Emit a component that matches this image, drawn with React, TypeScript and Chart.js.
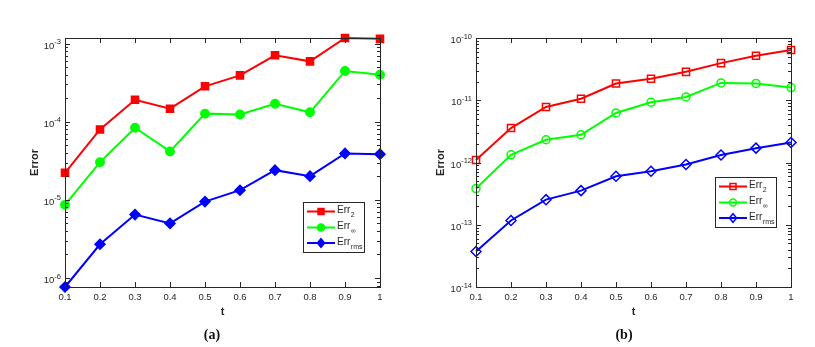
import React, { useEffect, useRef } from 'react';
import { Chart, registerables } from 'chart.js';

Chart.register(...registerables);

// ---------- data ----------
const T = [0.1, 0.2, 0.3, 0.4, 0.5, 0.6, 0.7, 0.8, 0.9, 1.0];
const X_TICK_LABELS = ['0.1', '0.2', '0.3', '0.4', '0.5', '0.6', '0.7', '0.8', '0.9', '1'];

// panel (a)
const aErr2 = [2.22e-5, 7.97e-5, 1.91e-4, 1.47e-4, 2.84e-4, 3.92e-4, 7.08e-4, 5.93e-4, 1.18e-3, 1.15e-3];
const aErrInf = [8.63e-6, 3.04e-5, 8.38e-5, 4.17e-5, 1.27e-4, 1.24e-4, 1.7e-4, 1.32e-4, 4.47e-4, 4.0e-4];
const aErrRms = [7.67e-7, 2.7e-6, 6.48e-6, 5.0e-6, 9.5e-6, 1.33e-5, 2.4e-5, 2.01e-5, 3.93e-5, 3.85e-5];

// panel (b)
const bErr2 = [1.1e-12, 3.58e-12, 7.8e-12, 1.06e-11, 1.86e-11, 2.21e-11, 2.86e-11, 3.95e-11, 5.19e-11, 6.4e-11];
const bErrInf = [3.81e-13, 1.33e-12, 2.32e-12, 2.79e-12, 6.25e-12, 9.29e-12, 1.13e-11, 1.9e-11, 1.86e-11, 1.6e-11];
const bErrRms = [3.71e-14, 1.17e-13, 2.53e-13, 3.53e-13, 6.02e-13, 7.24e-13, 9.3e-13, 1.32e-12, 1.7e-12, 2.1e-12];
const B_Y_MIN = 1e-14;
const B_Y_MAX = 1e-10;

const SERIES_BASE = ['Err', 'Err', 'Err'];
const SERIES_SUB = ['2', '\u221E', 'rms'];
const X_TITLE = 't';
const Y_TITLE = 'Error';
const CAPTIONS = ['(a)', '(b)'];

// ---------- styles ----------
const COLORS = ['#ff0000', '#00ff00', '#0000ff'];
const STYLES = ['rect', 'circle', 'rectRot'];
const AXIS_COLOR = '#262626';
const SANS = '"Liberation Sans", Arial, Helvetica, sans-serif';

function drawMarker(ctx: CanvasRenderingContext2D, style: string, x: number, y: number, r: number, color: string, filled: boolean) {
  ctx.save();
  ctx.beginPath();
  if (style === 'rect') {
    const s = r * Math.SQRT1_2;
    ctx.rect(x - s, y - s, 2 * s, 2 * s);
  } else if (style === 'circle') {
    ctx.arc(x, y, r, 0, Math.PI * 2);
  } else {
    ctx.moveTo(x, y - r);
    ctx.lineTo(x + r * 0.85, y);
    ctx.lineTo(x, y + r);
    ctx.lineTo(x - r * 0.85, y);
    ctx.closePath();
  }
  ctx.strokeStyle = color;
  ctx.lineWidth = 1.5;
  if (filled) {
    ctx.fillStyle = color;
    ctx.fill();
  }
  ctx.stroke();
  ctx.restore();
}

type PanelProps = {
  series: number[][];
  yMin: number;
  yMax: number;
  filled: boolean;
  padLeft: number;
  yWidth: number;
  padRight: number;
  legendX: number;
  legendY: number;
  radii: number[];
};

function Panel(p: PanelProps) {
  const ref = useRef<HTMLCanvasElement | null>(null);

  useEffect(() => {
    if (!ref.current) return;

    const overlay = {
      id: 'matlabAxes',
      afterDraw(chart: any) {
        const ctx: CanvasRenderingContext2D = chart.ctx;
        const a = chart.chartArea;
        const xs = chart.scales.x;
        const ys = chart.scales.y;
        ctx.save();
        ctx.strokeStyle = AXIS_COLOR;
        ctx.lineWidth = 1;
        // box
        ctx.strokeRect(Math.round(a.left) + 0.5, Math.round(a.top) + 0.5, Math.round(a.right - a.left), Math.round(a.bottom - a.top));
        // x ticks (inside, bottom and top)
        ctx.beginPath();
        for (const v of T) {
          const x = Math.round(xs.getPixelForValue(v)) + 0.5;
          ctx.moveTo(x, a.bottom);
          ctx.lineTo(x, a.bottom - 5);
          ctx.moveTo(x, a.top);
          ctx.lineTo(x, a.top + 5);
        }
        // y ticks (log, major + minor)
        const lo = Math.floor(Math.log10(ys.min)) - 1;
        const hi = Math.ceil(Math.log10(ys.max)) + 1;
        for (let d = lo; d <= hi; d++) {
          for (let m = 1; m <= 9; m++) {
            const v = m * Math.pow(10, d);
            if (v < ys.min * 0.9999 || v > ys.max * 1.0001) continue;
            const y = Math.round(ys.getPixelForValue(v)) + 0.5;
            const len = m === 1 ? 5 : 3;
            ctx.moveTo(a.left, y);
            ctx.lineTo(a.left + len, y);
            ctx.moveTo(a.right, y);
            ctx.lineTo(a.right - len, y);
          }
        }
        ctx.stroke();

        // y tick labels 10^d
        ctx.fillStyle = AXIS_COLOR;
        ctx.textBaseline = 'middle';
        ctx.textAlign = 'left';
        const dMin = Math.ceil(Math.log10(ys.min) - 1e-9);
        const dMax = Math.floor(Math.log10(ys.max) + 1e-9);
        for (let d = dMin; d <= dMax; d++) {
          const y = ys.getPixelForValue(Math.pow(10, d));
          const sup = (d < 0 ? '-' : '') + Math.abs(d);
          ctx.font = '7.5px ' + SANS;
          const supW = ctx.measureText(sup).width;
          ctx.font = '9.5px ' + SANS;
          const baseW = ctx.measureText('10').width;
          const right = a.left - 4;
          ctx.fillText('10', right - supW - baseW, y + 2.5);
          ctx.font = '7.5px ' + SANS;
          ctx.fillText(sup, right - supW, y - 1.5);
        }

        // legend
        const lx = p.legendX;
        const ly = p.legendY;
        const lw = 61;
        const lh = 50;
        ctx.fillStyle = '#ffffff';
        ctx.fillRect(lx, ly, lw, lh);
        ctx.strokeStyle = AXIS_COLOR;
        ctx.lineWidth = 1;
        ctx.strokeRect(lx + 0.5, ly + 0.5, lw, lh);
        const rows = [9.5, 25.5, 41];
        for (let i = 0; i < 3; i++) {
          const ry = ly + rows[i];
          ctx.beginPath();
          ctx.strokeStyle = COLORS[i];
          ctx.lineWidth = 2;
          ctx.moveTo(lx + 4, ry);
          ctx.lineTo(lx + 32, ry);
          ctx.stroke();
          drawMarker(ctx, STYLES[i], lx + 18, ry, p.radii[i] * 0.85, COLORS[i], p.filled);
          ctx.fillStyle = AXIS_COLOR;
          ctx.textBaseline = 'middle';
          ctx.textAlign = 'left';
          ctx.font = '10px ' + SANS;
          ctx.fillText(SERIES_BASE[i], lx + 34, ry - 1);
          const bw = ctx.measureText(SERIES_BASE[i]).width;
          ctx.font = '7px ' + SANS;
          ctx.fillText(SERIES_SUB[i], lx + 34 + bw + 0.5, ry + 4);
        }
        ctx.restore();
      },
    };

    const chart = new Chart(ref.current, {
      type: 'line',
      data: {
        datasets: p.series.map((vals, i) => ({
          label: SERIES_BASE[i] + SERIES_SUB[i],
          data: T.map((t, k) => ({ x: t, y: vals[k] })),
          borderColor: COLORS[i],
          borderWidth: 2,
          pointStyle: STYLES[i] as any,
          pointRadius: p.radii[i],
          pointBorderWidth: 1.5,
          pointBackgroundColor: p.filled ? COLORS[i] : 'rgba(0,0,0,0)',
          pointBorderColor: COLORS[i],
          tension: 0,
          clip: false as any,
        })),
      },
      options: {
        animation: false,
        responsive: false,
        maintainAspectRatio: false,
        layout: { padding: { left: p.padLeft, right: p.padRight, top: 38, bottom: 28 } },
        plugins: { legend: { display: false }, tooltip: { enabled: false } },
        scales: {
          x: {
            type: 'linear',
            min: 0.1,
            max: 1,
            afterBuildTicks: (s: any) => {
              s.ticks = T.map((v) => ({ value: v }));
            },
            ticks: {
              padding: 5,
              color: AXIS_COLOR,
              font: { family: SANS, size: 9.5 },
              maxRotation: 0,
              autoSkip: false,
              callback: (v: any) => {
                const idx = T.findIndex((t) => Math.abs(t - Number(v)) < 1e-6);
                return idx >= 0 ? X_TICK_LABELS[idx] : '';
              },
            },
            grid: { display: false, drawTicks: false },
            border: { display: false },
            title: { display: true, text: X_TITLE, color: AXIS_COLOR, font: { family: SANS, size: 11, weight: 'bold' }, padding: 0 },
            afterFit: (s: any) => {
              s.height = 32;
            },
          },
          y: {
            type: 'logarithmic',
            min: p.yMin,
            max: p.yMax,
            ticks: { display: false },
            grid: { display: false, drawTicks: false },
            border: { display: false },
            title: { display: true, text: Y_TITLE, color: AXIS_COLOR, font: { family: SANS, size: 11, weight: 'bold' }, padding: 0 },
            afterFit: (s: any) => {
              s.width = p.yWidth;
            },
          },
        },
      } as any,
      plugins: [overlay],
    });
    return () => chart.destroy();
  }, []);

  return <canvas ref={ref} width={407} height={347} style={{ display: 'block', width: 407, height: 347 }} />;
}

export default function App() {
  const aAll = [...aErr2, ...aErrInf, ...aErrRms];
  const aMin = Math.min(...aAll);
  const aMax = Math.max(...aAll);
  const captionStyle: React.CSSProperties = {
    position: 'absolute',
    top: 325,
    width: 60,
    textAlign: 'center',
    font: 'bold 14px "Liberation Serif", "Times New Roman", serif',
    color: '#111',
    lineHeight: '20px',
  };
  return (
    <div style={{ position: 'absolute', left: 0, top: 0, width: 815, height: 347, background: '#fff', overflow: 'hidden' }}>
      <div style={{ position: 'absolute', left: 0, top: 0 }}>
        <Panel
          series={[aErr2, aErrInf, aErrRms]}
          yMin={aMin}
          yMax={aMax}
          filled={true}
          padLeft={28}
          yWidth={37}
          padRight={27}
          legendX={303}
          legendY={202}
          radii={[5, 4.2, 5]}
        />
      </div>
      <div style={{ position: 'absolute', left: 408, top: 0 }}>
        <Panel
          series={[bErr2, bErrInf, bErrRms]}
          yMin={B_Y_MIN}
          yMax={B_Y_MAX}
          filled={false}
          padLeft={26}
          yWidth={42}
          padRight={24}
          legendX={307}
          legendY={177}
          radii={[5, 4, 5]}
        />
      </div>
      <div style={{ ...captionStyle, left: 182 }}>{CAPTIONS[0]}</div>
      <div style={{ ...captionStyle, left: 594 }}>{CAPTIONS[1]}</div>
    </div>
  );
}
